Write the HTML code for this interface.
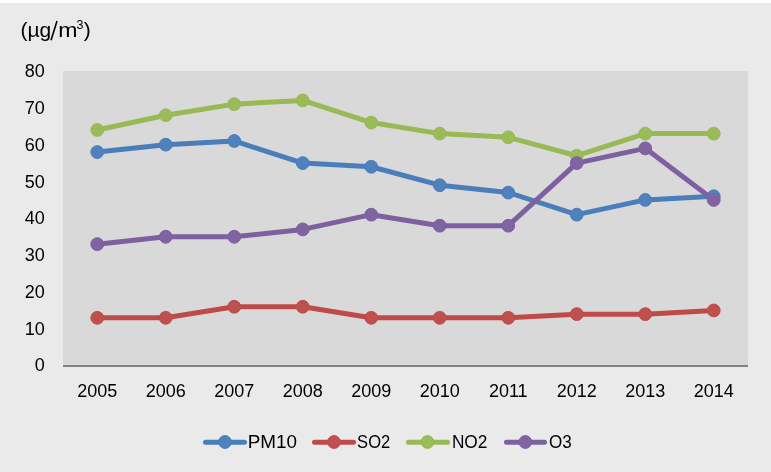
<!DOCTYPE html>
<html><head><meta charset="utf-8"><title>chart</title>
<style>
html,body{margin:0;padding:0;background:#EAEAEA;}
body{width:771px;height:472px;overflow:hidden;font-family:"Liberation Sans",sans-serif;}
svg{display:block;will-change:transform;}
text{font-family:"Liberation Sans",sans-serif;fill:#000;}
</style></head><body>
<svg width="771" height="472" viewBox="0 0 771 472">
<rect x="0" y="0" width="771" height="472" fill="#EAEAEA"/>
<rect x="0" y="0" width="771" height="3" fill="#FFFFFF"/>
<rect x="63" y="71" width="685" height="295" fill="#D9D9D9"/>
<rect x="63" y="365" width="685" height="2" fill="#828282"/>
<text y="37" font-size="21" x="20.4 27.5 39.6">(µg</text>
<line x1="51.0" y1="40.3" x2="57.0" y2="21.0" stroke="#000" stroke-width="1.6"/>
<text transform="translate(58.3,37) scale(1.1,1)" font-size="21" x="0" y="0">m</text>
<text x="76.4" y="29.4" font-size="12.5">3</text>
<text x="83.8" y="37" font-size="21">)</text>
<text x="44.7" y="371.30" font-size="18" text-anchor="end">0</text>
<text x="44.7" y="334.54" font-size="18" text-anchor="end">10</text>
<text x="44.7" y="297.78" font-size="18" text-anchor="end">20</text>
<text x="44.7" y="261.02" font-size="18" text-anchor="end">30</text>
<text x="44.7" y="224.26" font-size="18" text-anchor="end">40</text>
<text x="44.7" y="187.50" font-size="18" text-anchor="end">50</text>
<text x="44.7" y="150.74" font-size="18" text-anchor="end">60</text>
<text x="44.7" y="113.98" font-size="18" text-anchor="end">70</text>
<text x="44.7" y="77.22" font-size="18" text-anchor="end">80</text>
<text x="97.25" y="397" font-size="18" text-anchor="middle">2005</text>
<text x="165.75" y="397" font-size="18" text-anchor="middle">2006</text>
<text x="234.25" y="397" font-size="18" text-anchor="middle">2007</text>
<text x="302.75" y="397" font-size="18" text-anchor="middle">2008</text>
<text x="371.25" y="397" font-size="18" text-anchor="middle">2009</text>
<text x="439.75" y="397" font-size="18" text-anchor="middle">2010</text>
<text x="508.25" y="397" font-size="18" text-anchor="middle">2011</text>
<text x="576.75" y="397" font-size="18" text-anchor="middle">2012</text>
<text x="645.25" y="397" font-size="18" text-anchor="middle">2013</text>
<text x="713.75" y="397" font-size="18" text-anchor="middle">2014</text>
<polyline points="97.25,152.04 165.75,144.67 234.25,140.99 302.75,163.09 371.25,166.78 439.75,185.20 508.25,192.56 576.75,214.67 645.25,199.93 713.75,196.25" fill="none" stroke="#4A7EBB" stroke-width="5" stroke-linejoin="round" stroke-linecap="round"/>
<circle cx="97.25" cy="152.04" r="6.4" fill="#4F81BD" stroke="#4A7EBB" stroke-width="1"/>
<circle cx="165.75" cy="144.67" r="6.4" fill="#4F81BD" stroke="#4A7EBB" stroke-width="1"/>
<circle cx="234.25" cy="140.99" r="6.4" fill="#4F81BD" stroke="#4A7EBB" stroke-width="1"/>
<circle cx="302.75" cy="163.09" r="6.4" fill="#4F81BD" stroke="#4A7EBB" stroke-width="1"/>
<circle cx="371.25" cy="166.78" r="6.4" fill="#4F81BD" stroke="#4A7EBB" stroke-width="1"/>
<circle cx="439.75" cy="185.20" r="6.4" fill="#4F81BD" stroke="#4A7EBB" stroke-width="1"/>
<circle cx="508.25" cy="192.56" r="6.4" fill="#4F81BD" stroke="#4A7EBB" stroke-width="1"/>
<circle cx="576.75" cy="214.67" r="6.4" fill="#4F81BD" stroke="#4A7EBB" stroke-width="1"/>
<circle cx="645.25" cy="199.93" r="6.4" fill="#4F81BD" stroke="#4A7EBB" stroke-width="1"/>
<circle cx="713.75" cy="196.25" r="6.4" fill="#4F81BD" stroke="#4A7EBB" stroke-width="1"/>
<polyline points="97.25,317.81 165.75,317.81 234.25,306.76 302.75,306.76 371.25,317.81 439.75,317.81 508.25,317.81 576.75,314.13 645.25,314.13 713.75,310.44" fill="none" stroke="#BE4B48" stroke-width="5" stroke-linejoin="round" stroke-linecap="round"/>
<circle cx="97.25" cy="317.81" r="6.4" fill="#C0504D" stroke="#BE4B48" stroke-width="1"/>
<circle cx="165.75" cy="317.81" r="6.4" fill="#C0504D" stroke="#BE4B48" stroke-width="1"/>
<circle cx="234.25" cy="306.76" r="6.4" fill="#C0504D" stroke="#BE4B48" stroke-width="1"/>
<circle cx="302.75" cy="306.76" r="6.4" fill="#C0504D" stroke="#BE4B48" stroke-width="1"/>
<circle cx="371.25" cy="317.81" r="6.4" fill="#C0504D" stroke="#BE4B48" stroke-width="1"/>
<circle cx="439.75" cy="317.81" r="6.4" fill="#C0504D" stroke="#BE4B48" stroke-width="1"/>
<circle cx="508.25" cy="317.81" r="6.4" fill="#C0504D" stroke="#BE4B48" stroke-width="1"/>
<circle cx="576.75" cy="314.13" r="6.4" fill="#C0504D" stroke="#BE4B48" stroke-width="1"/>
<circle cx="645.25" cy="314.13" r="6.4" fill="#C0504D" stroke="#BE4B48" stroke-width="1"/>
<circle cx="713.75" cy="310.44" r="6.4" fill="#C0504D" stroke="#BE4B48" stroke-width="1"/>
<polyline points="97.25,129.94 165.75,115.21 234.25,104.15 302.75,100.47 371.25,122.57 439.75,133.62 508.25,137.31 576.75,155.73 645.25,133.62 713.75,133.62" fill="none" stroke="#98B954" stroke-width="5" stroke-linejoin="round" stroke-linecap="round"/>
<circle cx="97.25" cy="129.94" r="6.4" fill="#9BBB59" stroke="#98B954" stroke-width="1"/>
<circle cx="165.75" cy="115.21" r="6.4" fill="#9BBB59" stroke="#98B954" stroke-width="1"/>
<circle cx="234.25" cy="104.15" r="6.4" fill="#9BBB59" stroke="#98B954" stroke-width="1"/>
<circle cx="302.75" cy="100.47" r="6.4" fill="#9BBB59" stroke="#98B954" stroke-width="1"/>
<circle cx="371.25" cy="122.57" r="6.4" fill="#9BBB59" stroke="#98B954" stroke-width="1"/>
<circle cx="439.75" cy="133.62" r="6.4" fill="#9BBB59" stroke="#98B954" stroke-width="1"/>
<circle cx="508.25" cy="137.31" r="6.4" fill="#9BBB59" stroke="#98B954" stroke-width="1"/>
<circle cx="576.75" cy="155.73" r="6.4" fill="#9BBB59" stroke="#98B954" stroke-width="1"/>
<circle cx="645.25" cy="133.62" r="6.4" fill="#9BBB59" stroke="#98B954" stroke-width="1"/>
<circle cx="713.75" cy="133.62" r="6.4" fill="#9BBB59" stroke="#98B954" stroke-width="1"/>
<polyline points="97.25,244.14 165.75,236.77 234.25,236.77 302.75,229.40 371.25,214.67 439.75,225.72 508.25,225.72 576.75,163.09 645.25,148.36 713.75,199.93" fill="none" stroke="#7D60A0" stroke-width="5" stroke-linejoin="round" stroke-linecap="round"/>
<circle cx="97.25" cy="244.14" r="6.4" fill="#8064A2" stroke="#7D60A0" stroke-width="1"/>
<circle cx="165.75" cy="236.77" r="6.4" fill="#8064A2" stroke="#7D60A0" stroke-width="1"/>
<circle cx="234.25" cy="236.77" r="6.4" fill="#8064A2" stroke="#7D60A0" stroke-width="1"/>
<circle cx="302.75" cy="229.40" r="6.4" fill="#8064A2" stroke="#7D60A0" stroke-width="1"/>
<circle cx="371.25" cy="214.67" r="6.4" fill="#8064A2" stroke="#7D60A0" stroke-width="1"/>
<circle cx="439.75" cy="225.72" r="6.4" fill="#8064A2" stroke="#7D60A0" stroke-width="1"/>
<circle cx="508.25" cy="225.72" r="6.4" fill="#8064A2" stroke="#7D60A0" stroke-width="1"/>
<circle cx="576.75" cy="163.09" r="6.4" fill="#8064A2" stroke="#7D60A0" stroke-width="1"/>
<circle cx="645.25" cy="148.36" r="6.4" fill="#8064A2" stroke="#7D60A0" stroke-width="1"/>
<circle cx="713.75" cy="199.93" r="6.4" fill="#8064A2" stroke="#7D60A0" stroke-width="1"/>
<line x1="205.5" y1="442.3" x2="244.5" y2="442.3" stroke="#4A7EBB" stroke-width="5" stroke-linecap="round"/>
<circle cx="225.0" cy="442" r="6.4" fill="#4F81BD" stroke="#4A7EBB" stroke-width="1"/>
<text transform="translate(247.7,448) scale(1.05,1)" x="0" y="0" font-size="18">PM10</text>
<line x1="314.5" y1="442.3" x2="353.5" y2="442.3" stroke="#BE4B48" stroke-width="5" stroke-linecap="round"/>
<circle cx="334.0" cy="442" r="6.4" fill="#C0504D" stroke="#BE4B48" stroke-width="1"/>
<text transform="translate(357.1,448) scale(0.92,1)" x="0" y="0" font-size="18">SO2</text>
<line x1="408.5" y1="442.3" x2="447.5" y2="442.3" stroke="#98B954" stroke-width="5" stroke-linecap="round"/>
<circle cx="427.5" cy="442" r="6.4" fill="#9BBB59" stroke="#98B954" stroke-width="1"/>
<text transform="translate(451.9,448) scale(0.96,1)" x="0" y="0" font-size="18">NO2</text>
<line x1="506.5" y1="442.3" x2="544.5" y2="442.3" stroke="#7D60A0" stroke-width="5" stroke-linecap="round"/>
<circle cx="525.3" cy="442" r="6.4" fill="#8064A2" stroke="#7D60A0" stroke-width="1"/>
<text transform="translate(549.0,448) scale(0.95,1)" x="0" y="0" font-size="18">O3</text>
</svg>
</body></html>
